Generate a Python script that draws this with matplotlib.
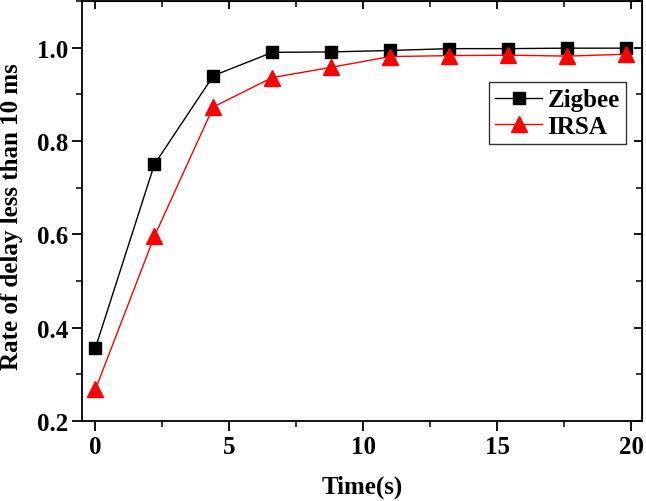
import matplotlib
matplotlib.use("Agg")
import matplotlib.pyplot as plt
from matplotlib.ticker import MultipleLocator

time_s = [0, 2.2, 4.4, 6.6, 8.8, 11.0, 13.2, 15.4, 17.6, 19.8]
zigbee = [0.357, 0.750, 0.940, 0.990, 0.991, 0.994, 0.998, 0.998, 0.999, 0.999]
irsa = [0.268, 0.596, 0.873, 0.936, 0.958, 0.981, 0.983, 0.984, 0.982, 0.986]

plt.rcParams['font.family'] = ['Liberation Serif', 'DejaVu Serif']
plt.rcParams['font.weight'] = 'bold'

fig = plt.figure(figsize=(6.46, 5.02), dpi=100)
ax = fig.add_axes([0.127, 0.159, 0.867, 0.837])

ax.plot(time_s, zigbee, color='black', lw=1.0, marker='s', ms=9, label='Zigbee')
ax.plot(time_s, irsa, color='red', lw=1.0, marker='^', ms=11, label='IRSA')

ax.set_xlim(-0.5, 20.4)
ax.set_ylim(0.2, 1.1)
ax.xaxis.set_major_locator(MultipleLocator(5))
ax.xaxis.set_minor_locator(MultipleLocator(2.5))
ax.yaxis.set_minor_locator(MultipleLocator(0.1))
ax.set_yticks([0.2, 0.4, 0.6, 0.8, 1.0])
ax.set_yticklabels(['0.2', '0.4', '0.6', '0.8', '1.0'])

for sp in ax.spines.values():
    sp.set_linewidth(1.3)

ax.tick_params(which='major', direction='out', length=7, width=1.3, labelsize=18, pad=3)
ax.tick_params(which='minor', direction='out', length=4, width=1.1)

# mirrored ticks pointing inward on top and right
axt = ax.secondary_xaxis('top')
axt.xaxis.set_major_locator(MultipleLocator(5))
axt.xaxis.set_minor_locator(MultipleLocator(2.5))
axt.tick_params(which='major', direction='in', length=6, width=1.3, labeltop=False)
axt.tick_params(which='minor', direction='in', length=4, width=1.1)
axr = ax.secondary_yaxis('right')
axr.yaxis.set_major_locator(MultipleLocator(0.2))
axr.yaxis.set_minor_locator(MultipleLocator(0.1))
axr.tick_params(which='major', direction='in', length=6, width=1.3, labelright=False)
axr.tick_params(which='minor', direction='in', length=4, width=1.1)

for lab in ax.get_xticklabels() + ax.get_yticklabels():
    lab.set_fontweight('bold')

ax.set_xlabel('Time(s)', fontsize=18, fontweight='bold', labelpad=12)
ax.set_ylabel('Rate of delay less than 10 ms', fontsize=18, fontweight='bold', labelpad=10)
ax.yaxis.set_label_coords(-0.105, 0.49)

leg = ax.legend(loc='upper right', bbox_to_anchor=(0.971, 0.807), fontsize=18,
                frameon=True, fancybox=False, edgecolor='black', handlelength=1.9,
                handletextpad=0.2, borderpad=0.25, labelspacing=0.15, borderaxespad=0)
leg.get_frame().set_linewidth(1.0)
for t in leg.get_texts():
    t.set_fontweight('bold')

fig.savefig('out.png', dpi=100)
